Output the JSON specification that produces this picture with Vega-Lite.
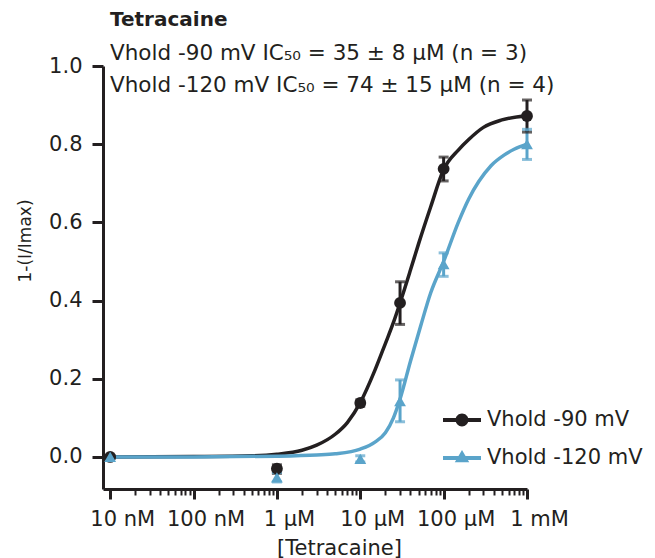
{
  "$schema": "https://vega.github.io/schema/vega-lite/v6.json",
  "width": 424,
  "height": 423,
  "autosize": {"type": "none"},
  "padding": {"left": 103, "top": 66, "right": 128, "bottom": 69},
  "background": "white",
  "config": {"view": {"stroke": null}, "font": "DejaVu Sans"},
  "title": {
    "text": "Tetracaine",
    "subtitle": ["Vhold -90 mV IC₅₀ = 35 ± 8 µM (n = 3)", "Vhold -120 mV IC₅₀ = 74 ± 15 µM (n = 4)"],
    "anchor": "start",
    "frame": "group",
    "offset": -41,
    "dx": 7,
    "font": "DejaVu Sans",
    "fontSize": 20,
    "fontWeight": "bold",
    "color": "#231f20",
    "subtitleFont": "DejaVu Sans",
    "subtitleFontSize": 21.5,
    "subtitleColor": "#231f20",
    "subtitleLineHeight": 32,
    "subtitlePadding": 13
  },
  "resolve": {"legend": {"color": "independent", "shape": "independent"}},
  "datasets": {
    "points": [
      {"series": "Vhold -90 mV", "conc": 1e-8, "y": 0.0, "lo": -0.004, "hi": 0.004},
      {"series": "Vhold -90 mV", "conc": 1e-6, "y": -0.03, "lo": -0.042, "hi": -0.02},
      {"series": "Vhold -90 mV", "conc": 1e-5, "y": 0.138, "lo": 0.13, "hi": 0.146},
      {"series": "Vhold -90 mV", "conc": 3e-5, "y": 0.394, "lo": 0.339, "hi": 0.448},
      {"series": "Vhold -90 mV", "conc": 1e-4, "y": 0.737, "lo": 0.706, "hi": 0.767},
      {"series": "Vhold -90 mV", "conc": 1e-3, "y": 0.872, "lo": 0.831, "hi": 0.913},
      {"series": "Vhold -120 mV", "conc": 1e-8, "y": 0.0, "lo": -0.003, "hi": 0.003},
      {"series": "Vhold -120 mV", "conc": 1e-6, "y": -0.052, "lo": -0.064, "hi": -0.04},
      {"series": "Vhold -120 mV", "conc": 1e-5, "y": -0.005, "lo": -0.013, "hi": 0.003},
      {"series": "Vhold -120 mV", "conc": 3e-5, "y": 0.143, "lo": 0.09, "hi": 0.197},
      {"series": "Vhold -120 mV", "conc": 1e-4, "y": 0.493, "lo": 0.462, "hi": 0.522},
      {"series": "Vhold -120 mV", "conc": 1e-3, "y": 0.8, "lo": 0.761, "hi": 0.838}
    ],
    "curve": [
      {"series": "Vhold -90 mV", "conc": 1e-8, "y": 0.0},
      {"series": "Vhold -90 mV", "conc": 1e-7, "y": 0.001},
      {"series": "Vhold -90 mV", "conc": 5e-7, "y": 0.003},
      {"series": "Vhold -90 mV", "conc": 1e-6, "y": 0.007},
      {"series": "Vhold -90 mV", "conc": 2e-6, "y": 0.017},
      {"series": "Vhold -90 mV", "conc": 3e-6, "y": 0.03},
      {"series": "Vhold -90 mV", "conc": 5e-6, "y": 0.058},
      {"series": "Vhold -90 mV", "conc": 7e-6, "y": 0.088},
      {"series": "Vhold -90 mV", "conc": 1e-5, "y": 0.139},
      {"series": "Vhold -90 mV", "conc": 1.5e-5, "y": 0.222},
      {"series": "Vhold -90 mV", "conc": 2e-5, "y": 0.29},
      {"series": "Vhold -90 mV", "conc": 2.5e-5, "y": 0.344},
      {"series": "Vhold -90 mV", "conc": 3e-5, "y": 0.394},
      {"series": "Vhold -90 mV", "conc": 4e-5, "y": 0.478},
      {"series": "Vhold -90 mV", "conc": 5e-5, "y": 0.545},
      {"series": "Vhold -90 mV", "conc": 7e-5, "y": 0.64},
      {"series": "Vhold -90 mV", "conc": 1e-4, "y": 0.735},
      {"series": "Vhold -90 mV", "conc": 1.5e-4, "y": 0.785},
      {"series": "Vhold -90 mV", "conc": 2e-4, "y": 0.812},
      {"series": "Vhold -90 mV", "conc": 3e-4, "y": 0.843},
      {"series": "Vhold -90 mV", "conc": 5e-4, "y": 0.862},
      {"series": "Vhold -90 mV", "conc": 1e-3, "y": 0.873},
      {"series": "Vhold -120 mV", "conc": 1e-8, "y": 0.0},
      {"series": "Vhold -120 mV", "conc": 1e-7, "y": 0.0},
      {"series": "Vhold -120 mV", "conc": 1e-6, "y": 0.002},
      {"series": "Vhold -120 mV", "conc": 3e-6, "y": 0.005},
      {"series": "Vhold -120 mV", "conc": 5e-6, "y": 0.008},
      {"series": "Vhold -120 mV", "conc": 1e-5, "y": 0.02},
      {"series": "Vhold -120 mV", "conc": 1.5e-5, "y": 0.038},
      {"series": "Vhold -120 mV", "conc": 2e-5, "y": 0.062},
      {"series": "Vhold -120 mV", "conc": 2.5e-5, "y": 0.1},
      {"series": "Vhold -120 mV", "conc": 3e-5, "y": 0.148},
      {"series": "Vhold -120 mV", "conc": 4e-5, "y": 0.245},
      {"series": "Vhold -120 mV", "conc": 5.3e-5, "y": 0.335},
      {"series": "Vhold -120 mV", "conc": 7e-5, "y": 0.42},
      {"series": "Vhold -120 mV", "conc": 1e-4, "y": 0.5},
      {"series": "Vhold -120 mV", "conc": 1.5e-4, "y": 0.6},
      {"series": "Vhold -120 mV", "conc": 2e-4, "y": 0.66},
      {"series": "Vhold -120 mV", "conc": 2.65e-4, "y": 0.705},
      {"series": "Vhold -120 mV", "conc": 3.7e-4, "y": 0.745},
      {"series": "Vhold -120 mV", "conc": 5.3e-4, "y": 0.772},
      {"series": "Vhold -120 mV", "conc": 7e-4, "y": 0.787},
      {"series": "Vhold -120 mV", "conc": 1e-3, "y": 0.8}
    ]
  },
  "layer": [
    {
      "data": {"name": "curve"},
      "mark": {"type": "line", "strokeWidth": 3.5, "interpolate": "monotone"},
      "encoding": {
        "x": {
          "field": "conc", "type": "quantitative",
          "scale": {"type": "log", "domain": [8.2e-9, 1e-3], "nice": false},
          "axis": {
            "title": "[Tetracaine]",
            "values": [1e-8,2e-8,3e-8,4e-8,5e-8,6e-8,7e-8,8e-8,9e-8,1e-7,2e-7,3e-7,4e-7,5e-7,6e-7,7e-7,8e-7,9e-7,1e-6,2e-6,3e-6,4e-6,5e-6,6e-6,7e-6,8e-6,9e-6,1e-5,2e-5,3e-5,4e-5,5e-5,6e-5,7e-5,8e-5,9e-5,1e-4,2e-4,3e-4,4e-4,5e-4,6e-4,7e-4,8e-4,9e-4,1e-3],
            "labelExpr": "abs(log(datum.value)/LN10 - round(log(datum.value)/LN10)) < 0.01 ? (round(log(datum.value)/LN10) == -8 ? '10 nM' : round(log(datum.value)/LN10) == -7 ? '100 nM' : round(log(datum.value)/LN10) == -6 ? '1 µM' : round(log(datum.value)/LN10) == -5 ? '10 µM' : round(log(datum.value)/LN10) == -4 ? '100 µM' : '1 mM') : ''",
            "tickSize": {"condition": {"test": "abs(log(datum.value)/LN10 - round(log(datum.value)/LN10)) < 0.01", "value": 10}, "value": 6},
            "tickWidth": {"condition": {"test": "abs(log(datum.value)/LN10 - round(log(datum.value)/LN10)) < 0.01", "value": 3}, "value": 2},
            "tickColor": "#231f20",
            "domainColor": "#231f20",
            "domainWidth": 3,
            "grid": false,
            "labelFont": "DejaVu Sans",
            "labelFontSize": 21,
            "labelColor": "#231f20",
            "labelPadding": 9,
            "labelOffset": 12,
            "labelFlush": false,
            "labelOverlap": false,
            "labelBound": false,
            "titleFont": "DejaVu Sans",
            "titleFontSize": 21,
            "titleFontWeight": "normal",
            "titleColor": "#231f20",
            "titleX": 236,
            "titlePadding": 8
          }
        },
        "y": {
          "field": "y", "type": "quantitative",
          "scale": {"domain": [-0.082, 1.0], "nice": false, "zero": false},
          "axis": {
            "title": "1-(I/Imax)",
            "values": [0, 0.2, 0.4, 0.6, 0.8, 1.0],
            "format": ".1f",
            "grid": false,
            "tickSize": 11,
            "tickWidth": 3,
            "tickColor": "#231f20",
            "domainColor": "#231f20",
            "domainWidth": 3,
            "labelFont": "DejaVu Sans",
            "labelFontSize": 21,
            "labelColor": "#231f20",
            "labelPadding": 10,
            "titleFont": "DejaVu Sans",
            "titleFontSize": 17,
            "titleFontWeight": "normal",
            "titleColor": "#231f20",
            "titlePadding": 14,
            "titleY": 174.5
          }
        },
        "color": {
          "field": "series", "type": "nominal",
          "scale": {"domain": ["Vhold -90 mV", "Vhold -120 mV"], "range": ["#231f20", "#5aa4ca"]},
          "legend": null
        },
        "detail": {"field": "series"}
      }
    },
    {
      "data": {"name": "points"},
      "mark": {"type": "rule", "strokeWidth": 3},
      "encoding": {
        "x": {"field": "conc", "type": "quantitative"},
        "y": {"field": "lo", "type": "quantitative"},
        "y2": {"field": "hi"},
        "color": {"field": "series", "type": "nominal", "legend": null}
      }
    },
    {
      "data": {"name": "points"},
      "mark": {"type": "tick", "orient": "horizontal", "size": 10, "thickness": 3},
      "encoding": {
        "x": {"field": "conc", "type": "quantitative"},
        "y": {"field": "lo", "type": "quantitative"},
        "color": {"field": "series", "type": "nominal", "legend": null}
      }
    },
    {
      "data": {"name": "points"},
      "mark": {"type": "tick", "orient": "horizontal", "size": 10, "thickness": 3},
      "encoding": {
        "x": {"field": "conc", "type": "quantitative"},
        "y": {"field": "hi", "type": "quantitative"},
        "color": {"field": "series", "type": "nominal", "legend": null}
      }
    },
    {
      "data": {"name": "points"},
      "transform": [{"filter": "datum.series === 'Vhold -90 mV'"}],
      "mark": {"type": "point", "shape": "circle", "filled": true, "opacity": 1, "size": 140, "strokeWidth": 0},
      "encoding": {
        "x": {"field": "conc", "type": "quantitative"},
        "y": {"field": "y", "type": "quantitative"},
        "color": {"field": "series", "type": "nominal", "legend": null}
      }
    },
    {
      "data": {"name": "points"},
      "transform": [{"filter": "datum.series === 'Vhold -120 mV'"}],
      "mark": {"type": "point", "shape": "triangle-up", "filled": true, "opacity": 1, "size": 140, "strokeWidth": 0},
      "encoding": {
        "x": {"field": "conc", "type": "quantitative"},
        "y": {"field": "y", "type": "quantitative"},
        "color": {"field": "series", "type": "nominal", "legend": null}
      }
    },
    {
      "data": {"name": "points"},
      "mark": {"type": "point", "filled": true, "opacity": 1, "size": 0, "strokeWidth": 0},
      "encoding": {
        "x": {"field": "conc", "type": "quantitative"},
        "y": {"field": "y", "type": "quantitative"},
        "shape": {
          "field": "series", "type": "nominal",
          "scale": {
            "domain": ["Vhold -90 mV", "Vhold -120 mV"],
            "range": [
              "M-1,-0.1L-0.3,-0.1L-0.3,0.1L-1,0.1Z M0.3,-0.1L1,-0.1L1,0.1L0.3,0.1Z M0.34,0A0.34,0.34,0,1,1,-0.34,0A0.34,0.34,0,1,1,0.34,0Z",
              "M-1,-0.1L1,-0.1L1,0.1L-1,0.1Z M0,-0.42L0.38,0.22L-0.38,0.22Z"
            ]
          },
          "legend": null
        },
        "color": {
          "field": "series", "type": "nominal",
          "legend": {
            "orient": "none",
            "legendX": 340,
            "legendY": 335,
            "title": null,
            "padding": 0,
            "rowPadding": 9,
            "symbolSize": 1444,
            "symbolStrokeWidth": 0,
            "symbolOpacity": 1,
            "labelOffset": 6,
            "labelFont": "DejaVu Sans",
            "labelFontSize": 21,
            "labelColor": "#231f20",
            "labelLimit": 300
          }
        }
      }
    }
  ]
}
